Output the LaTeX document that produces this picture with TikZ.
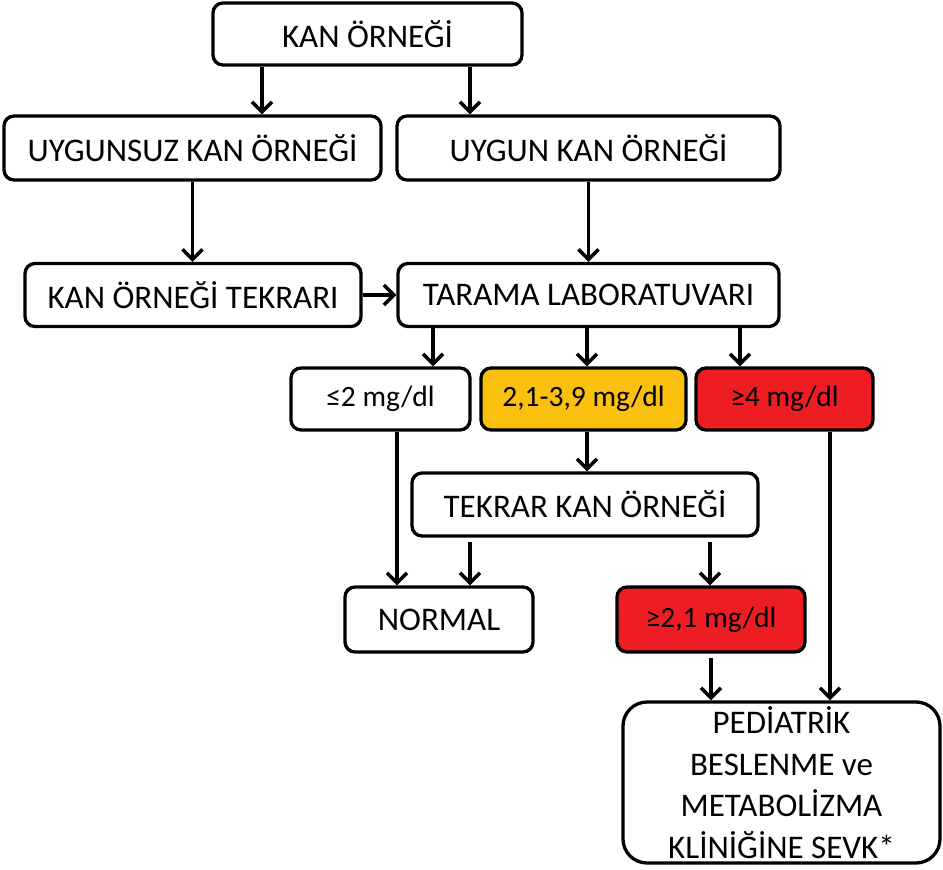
\documentclass[tikz,border=0pt]{standalone}
\usepackage{fontspec}
\setmainfont{Carlito}
\usetikzlibrary{arrows.meta}
\definecolor{amber}{HTML}{FBBF10}
\definecolor{alarm}{HTML}{EE1D23}
\begin{document}
\begin{tikzpicture}[x=1pt,y=-1pt,
  box/.style={draw, line width=3.3pt, rounded corners=10pt, inner sep=0pt,
    align=center, font=\fontsize{33}{40}\selectfont},
  lab/.style={box, font=\fontsize{29.5}{35}\selectfont},
  arr/.style={line width=3.6pt, -{Straight Barb[length=10pt,width=20pt,line width=3.6pt]}}]
\useasboundingbox (0,0) rectangle (943,870);

% boxes
\node[box, minimum width=309, minimum height=62] (kan) at (367.5,34) {KAN ÖRNEĞİ};
\node[box, minimum width=377, minimum height=64] (uygunsuz) at (192.5,148) {UYGUNSUZ KAN ÖRNEĞİ};
\node[box, minimum width=383, minimum height=64] (uygun) at (588.5,148) {UYGUN KAN ÖRNEĞİ};
\node[box, minimum width=336, minimum height=63] (tekrari) at (193,295) {KAN ÖRNEĞİ TEKRARI};
\node[box, minimum width=381, minimum height=63] (tarama) at (588.5,295) {TARAMA LABORATUVARI};
\node[lab, minimum width=179, minimum height=62] (low) at (380.5,399) {≤2 mg/dl};
\node[lab, fill=amber, minimum width=205, minimum height=62] (mid) at (583.5,399) {2,1-3,9 mg/dl};
\node[lab, fill=alarm, minimum width=177, minimum height=62] (high) at (784.5,399) {≥4 mg/dl};
\node[box, minimum width=346, minimum height=63] (tekrar) at (585,504.5) {TEKRAR KAN ÖRNEĞİ};
\node[box, minimum width=188, minimum height=65] (normal) at (439,619.5) {NORMAL};
\node[lab, fill=alarm, minimum width=188, minimum height=65] (high2) at (711,619.5) {≥2,1 mg/dl};
\node[box, rounded corners=24pt, minimum width=317, minimum height=161,
  font=\fontsize{33}{41.7}\selectfont] (sevk) at (781.5,782.5)
  {\raisebox{-4pt}{\parbox{300pt}{\centering PEDİATRİK\\BESLENME ve\\METABOLİZMA\\KLİNİĞİNE SEVK*}}};

% connector anchors
\coordinate (k1) at ([xshift=-105.5pt]kan.south);
\coordinate (k2) at ([xshift=102.5pt]kan.south);
\coordinate (t1) at ([xshift=-155.5pt]tarama.south);
\coordinate (t2) at ([xshift=-1.5pt]tarama.south);
\coordinate (t3) at ([xshift=151.5pt]tarama.south);
\coordinate (l1) at ([xshift=16.5pt]low.south);
\coordinate (m1) at ([xshift=3.5pt]mid.south);
\coordinate (r1) at ([xshift=-115pt]tekrar.south);
\coordinate (r2) at ([xshift=125pt]tekrar.south);
\coordinate (h1) at ([xshift=45.5pt]high.south);

% connectors
\draw[arr] (k1) -- (k1 |- uygunsuz.north);
\draw[arr] (k2) -- (k2 |- uygun.north);
\draw[arr] (uygunsuz.south) -- (uygunsuz.south |- tekrari.north);
\draw[arr] (uygun.south) -- (uygun.south |- tarama.north);
\draw[arr] (tekrari.east) -- (tarama.west);
\draw[arr] (t1) -- (t1 |- low.north);
\draw[arr] (t2) -- (t2 |- mid.north);
\draw[arr] (t3) -- (t3 |- high.north);
\draw[arr] (l1) -- (l1 |- normal.north);
\draw[arr] (m1) -- (m1 |- tekrar.north);
\draw[arr, shorten <=4pt] (r1) -- (r1 |- normal.north);
\draw[arr, shorten <=4pt] (r2) -- (r2 |- high2.north);
\draw[arr, shorten <=4pt] (high2.south) -- (high2.south |- sevk.north);
\draw[arr] (h1) -- (h1 |- sevk.north);
\end{tikzpicture}
\end{document}
